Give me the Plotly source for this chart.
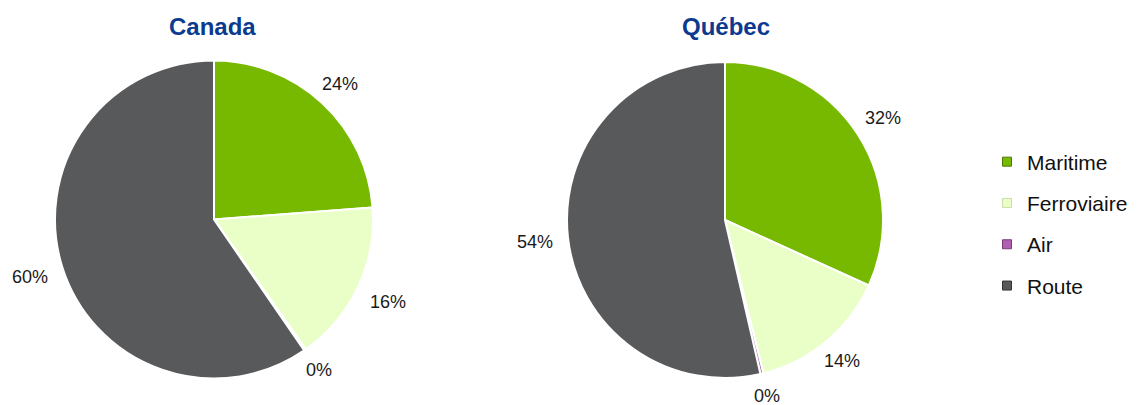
import math
import plotly.graph_objects as go

modes = ["Maritime", "Ferroviaire", "Air", "Route"]
canada_values = [23.8, 16.4, 0.2, 59.6]
quebec_values = [31.8, 14.3, 0.3, 53.6]
titles = ["Canada", "Québec"]
colors = ["#77B900", "#EAFFC8", "#B05FB0", "#58595B"]
edge_colors = ["#4E7A00", "#C9DDA8", "#7A3A7A", "#333333"]

W, H = 1138, 405
FONT = "Liberation Sans, Arial, sans-serif"
LABEL_SIZE = 18

pies = [
    dict(vals=canada_values, cx=214, cy=219.5, r=159),
    dict(vals=quebec_values, cx=725, cy=220, r=158),
]

fig = go.Figure()
for i, p in enumerate(pies):
    cx, cy, r = p["cx"], p["cy"], p["r"]
    fig.add_trace(go.Pie(
        labels=modes, values=p["vals"], sort=False, direction="clockwise", rotation=0,
        domain=dict(x=[(cx - r) / W, (cx + r) / W], y=[1 - (cy + r) / H, 1 - (cy - r) / H]),
        marker=dict(colors=colors, line=dict(color="white", width=2)),
        textinfo="none", showlegend=False, hoverinfo="label+percent",
    ))
    # percentage labels placed just outside each slice, from the data
    total = sum(p["vals"])
    cum = 0.0
    for v in p["vals"]:
        mid = (cum + v / 2) / total * 2 * math.pi
        cum += v
        txt = "%d%%" % round(v / total * 100)
        hw = (0.556 * (len(txt) - 1) + 0.889) * LABEL_SIZE / 2
        hh = 8.0
        s, c = math.sin(mid), math.cos(mid)
        off = min(hw / max(abs(s), 1e-6), hh / max(abs(c), 1e-6))
        d = r + 15 + off
        lx = cx + d * s
        ly = cy - d * c
        fig.add_annotation(text=txt, x=lx / W, y=1 - ly / H,
                           xref="paper", yref="paper", xanchor="center", yanchor="middle",
                           showarrow=False, font=dict(family=FONT, size=LABEL_SIZE, color="#1a1a1a"))

for t, cx in zip(titles, [212, 726]):
    fig.add_annotation(text="<b>%s</b>" % t, x=cx / W, y=1 - 27 / H, xref="paper", yref="paper",
                       xanchor="center", yanchor="middle",
                       showarrow=False, font=dict(family=FONT, size=24, color="#0B3A8F"))

# legend entries
for m, c, ec in zip(modes, colors, edge_colors):
    fig.add_trace(go.Scatter(
        x=[None], y=[None], mode="markers", name=m, legendgroup=m,
        marker=dict(symbol="square", size=9, color=c, line=dict(color=ec, width=1)),
    ))

fig.update_layout(
    width=W, height=H, margin=dict(l=0, r=0, t=0, b=0),
    paper_bgcolor="white", plot_bgcolor="white",
    xaxis=dict(visible=False), yaxis=dict(visible=False),
    legend=dict(x=987 / W, y=1 - 224 / H, yanchor="middle", xanchor="left",
                font=dict(family=FONT, size=21, color="#111111"),
                itemwidth=30, tracegroupgap=11, bgcolor="rgba(0,0,0,0)"),
)
fig.write_html("out.html", config={"displayModeBar": False},
               post_script="document.body.style.margin='0';")
